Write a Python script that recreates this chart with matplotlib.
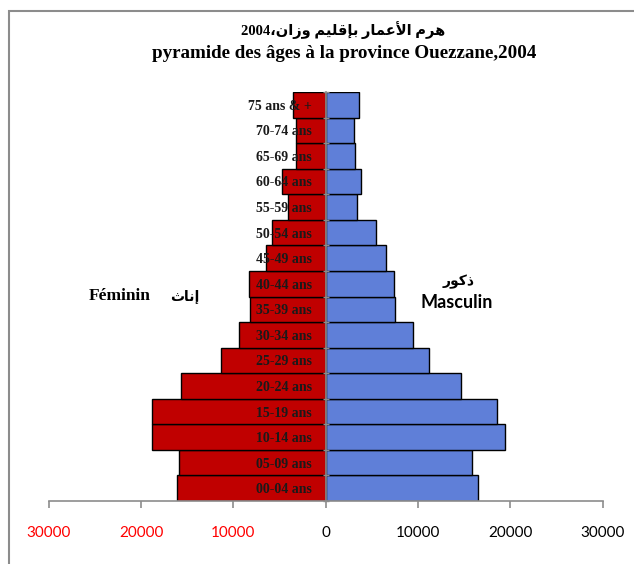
import matplotlib
matplotlib.use("Agg")
import matplotlib.pyplot as plt
from matplotlib.patches import Rectangle

# Age groups, bottom to top
age_groups = ['00-04 ans', '05-09 ans', '10-14 ans', '15-19 ans', '20-24 ans',
              '25-29 ans', '30-34 ans', '35-39 ans', '40-44 ans', '45-49 ans',
              '50-54 ans', '55-59 ans', '60-64 ans', '65-69 ans', '70-74 ans',
              '75 ans & +']
feminin = [16070, 15930, 18850, 18850, 15640, 11300, 9360, 8200, 8310, 6460,
           5780, 4050, 4730, 3220, 3220, 3510]
masculin = [16540, 15890, 19390, 18600, 14660, 11190, 9500, 7460, 7440, 6570,
            5490, 3430, 3790, 3180, 3030, 3640]
x_ticks = [-30000, -20000, -10000, 0, 10000, 20000, 30000]
x_labels = ['30000', '20000', '10000', '0', '10000', '20000', '30000']

# Arabic text pre-shaped (presentation forms, visual order) since matplotlib does no shaping
title_ar = ('2004\u060C' + '\uFEE5\uFE8D\uFEAF\uFEED' + ' '
            + '\uFEE2\uFEF4\uFEE0\uFED7\uFE88\uFE91' + ' '
            + '\uFEAD\uFE8E\uFEE4\uFECB\uFEF7\uFE8D' + ' '
            + '\uFEE1\uFEAE\uFEEB')
title_fr = 'pyramide des âges à la province Ouezzane,2004'
label_f_ar = '\uFE99\uFE8E\uFEE7\uFE87'
label_m_ar = '\uFEAD\uFEEE\uFEDB\uFEAB'

serif = ['Liberation Serif', 'DejaVu Sans']
sans = ['Lato', 'DejaVu Sans']

fig = plt.figure(figsize=(6.34, 5.64), dpi=100)
W, H = 634, 564

# chart area border (only top and left visible)
fig.patches.append(Rectangle((8.5 / W, -0.2), 1.5, 1.2 - 11 / H, transform=fig.transFigure,
                             fill=False, edgecolor='#8c8c8c', linewidth=1.5))

ax = fig.add_axes([48.8 / W, 1 - 501 / H, 553.8 / W, (501 - 92) / H])
y = list(range(len(age_groups)))
ax.barh(y, [-v for v in feminin], height=1.0, color='#C00000', edgecolor='black', linewidth=1.0)
ax.barh(y, masculin, height=1.0, color='#5F7FD8', edgecolor='black', linewidth=1.0)

ax.set_xlim(-30000, 30000)
ax.set_ylim(-0.5, len(age_groups) - 0.5)

for s in ['top', 'right']:
    ax.spines[s].set_visible(False)
ax.spines['bottom'].set_color('#8c8c8c')
ax.spines['bottom'].set_linewidth(1.2)
ax.spines['left'].set_position(('data', 0))
ax.spines['left'].set_color('#8c8c8c')
ax.spines['left'].set_linewidth(1.2)

ax.set_xticks(x_ticks)
ax.set_xticklabels(x_labels)
ax.tick_params(axis='x', direction='out', length=5, color='#8c8c8c', width=1.2, pad=13,
               labelsize=11)
for lbl, v in zip(ax.get_xticklabels(), x_ticks):
    lbl.set_fontfamily(sans)
    lbl.set_color('#FF0000' if v < 0 else 'black')

# boundaries as major ticks, age labels as minor ticks
ax.set_yticks([i - 0.5 for i in range(len(age_groups) + 1)])
ax.set_yticklabels([])
ax.tick_params(axis='y', which='major', direction='inout', length=4, color='#8c8c8c', width=1.0)
ax.set_yticks(y, minor=True)
ax.set_yticklabels(age_groups, minor=True)
ax.tick_params(axis='y', which='minor', length=0, pad=10, labelsize=10)
for lbl in ax.get_yticklabels(minor=True):
    lbl.set_fontfamily(serif)
    lbl.set_fontweight('bold')
    lbl.set_color('#1a1a1a')

fig.text(343 / W, 1 - 30 / H, title_ar, ha='center', va='center', fontsize=10.5,
         fontweight='bold', family=serif)
fig.text(344 / W, 1 - 53 / H, title_fr, ha='center', va='center', fontsize=13.7,
         fontweight='bold', family=serif)

fig.text(120 / W, 1 - 296 / H, 'Féminin', ha='center', va='center', fontsize=12.5,
         fontweight='bold', family=serif)
fig.text(185 / W, 1 - 297 / H, label_f_ar, ha='center', va='center', fontsize=10,
         fontweight='bold', family=serif)
fig.text(459 / W, 1 - 282 / H, label_m_ar, ha='center', va='center', fontsize=10,
         fontweight='bold', family=serif)
fig.text(457 / W, 1 - 303 / H, 'Masculin', ha='center', va='center', fontsize=13,
         fontweight='bold', family=sans)

plt.savefig('out.png', dpi=100)
